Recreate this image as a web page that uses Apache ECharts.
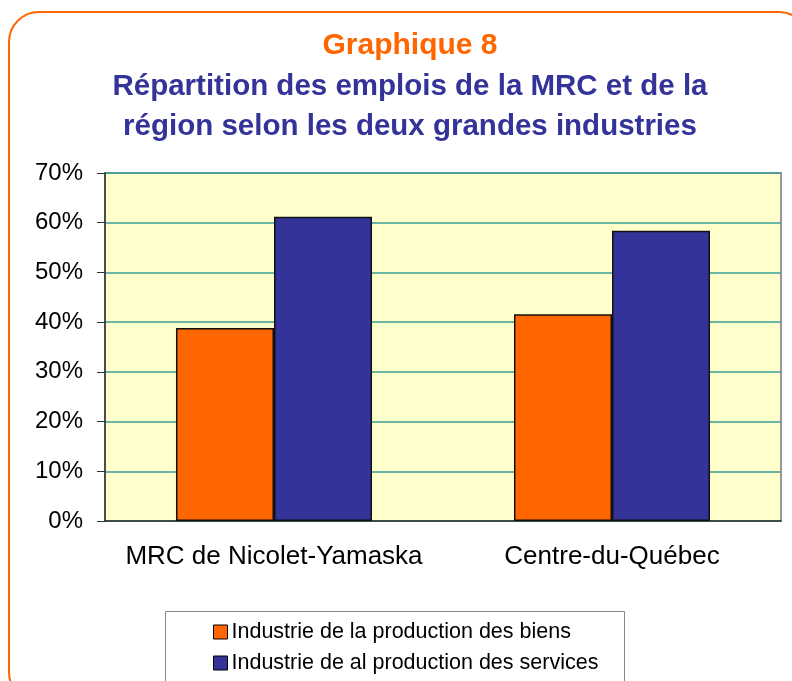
<!DOCTYPE html>
<html lang="fr">
<head>
    <meta charset="UTF-8">
    <title>Graphique 8</title>
    <script src="https://cdn.jsdelivr.net/npm/echarts@6/dist/echarts.min.js"></script>
    <style>
        html, body { margin: 0; padding: 0; background: #fff; }
        #mychart { width: 792px; height: 681px; }
    </style>
</head>
<body>
<div id="mychart"></div>
<script>
    // données
    var categories = ['MRC de Nicolet-Yamaska', 'Centre-du-Québec'];
    var seriesNames = ['Industrie de la production des biens', 'Industrie de al production des services'];
    var biens = [38.8, 41.6];
    var services = [61.2, 58.4];
    var yTicks = [0, 10, 20, 30, 40, 50, 60, 70];

    var font = '"Liberation Sans", Arial, sans-serif';
    var e = echarts.init(document.getElementById('mychart'));

    // une légende par ligne
    function legendRow(name, top) {
        return {
            data: [{ name: name, icon: 'rect' }],
            left: 213,
            top: top,
            padding: 0,
            itemWidth: 14,
            itemHeight: 14,
            itemStyle: { borderColor: '#000', borderWidth: 1 },
            textStyle: { fontSize: 21.5, color: '#000', fontFamily: font, padding: [0, 0, 0, -1] }
        };
    }

    var op = {
        backgroundColor: '#fff',
        animation: false,
        title: [{
            text: 'Graphique 8',
            left: 405,
            textAlign: 'center',
            top: 26,
            textStyle: { color: '#FF6600', fontSize: 30, fontWeight: 'bold', fontFamily: font }
        }, {
            text: 'Répartition des emplois de la MRC et de la\nrégion selon les deux grandes industries',
            left: 405,
            textAlign: 'center',
            top: 62,
            textStyle: { color: '#333399', fontSize: 29.5, fontWeight: 'bold', fontFamily: font, lineHeight: 40 }
        }],
        // cadre orange arrondi + cadre de légende
        graphic: [{
            type: 'rect',
            shape: { x: 9, y: 12, width: 800, height: 690, r: 30 },
            style: { fill: 'none', stroke: '#FF6600', lineWidth: 2 },
            silent: true
        }, {
            type: 'rect',
            shape: { x: 165.5, y: 611.5, width: 459, height: 90 },
            style: { fill: '#fff', stroke: '#888', lineWidth: 1 },
            z: -1,
            silent: true
        }],
        grid: {
            left: 105,
            right: 11,
            top: 173,
            bottom: 160,
            show: true,
            backgroundColor: '#FFFFCC',
            borderColor: '#999',
            borderWidth: 2
        },
        legend: [legendRow(seriesNames[0], 621), legendRow(seriesNames[1], 652)],
        xAxis: {
            type: 'category',
            data: categories,
            axisLine: { lineStyle: { color: '#333', width: 1.5 } },
            axisTick: { length: 8, lineStyle: { color: '#333', width: 1 } },
            axisLabel: { interval: 0, fontSize: 26, color: '#000', fontFamily: font, margin: 23 }
        },
        yAxis: {
            type: 'value',
            min: 0,
            max: 70,
            interval: 10,
            axisLine: { show: true, lineStyle: { color: '#333', width: 1.5 } },
            axisTick: { show: true, length: 8, lineStyle: { color: '#333', width: 1 } },
            axisLabel: {
                fontSize: 24, color: '#000', fontFamily: font, margin: 22,
                formatter: function (v) { return yTicks.indexOf(v) >= 0 ? v + '%' : ''; }
            },
            splitLine: { lineStyle: { color: '#3A9E99', width: 1.5 } }
        },
        series: [{
            name: seriesNames[0],
            type: 'bar',
            data: biens,
            barGap: '0%',
            barCategoryGap: '42%',
            itemStyle: { color: '#FF6600', borderColor: '#111', borderWidth: 1.5 }
        }, {
            name: seriesNames[1],
            type: 'bar',
            data: services,
            itemStyle: { color: '#333399', borderColor: '#111', borderWidth: 1.5 }
        }]
    };
    e.setOption(op);
</script>
</body>
</html>
